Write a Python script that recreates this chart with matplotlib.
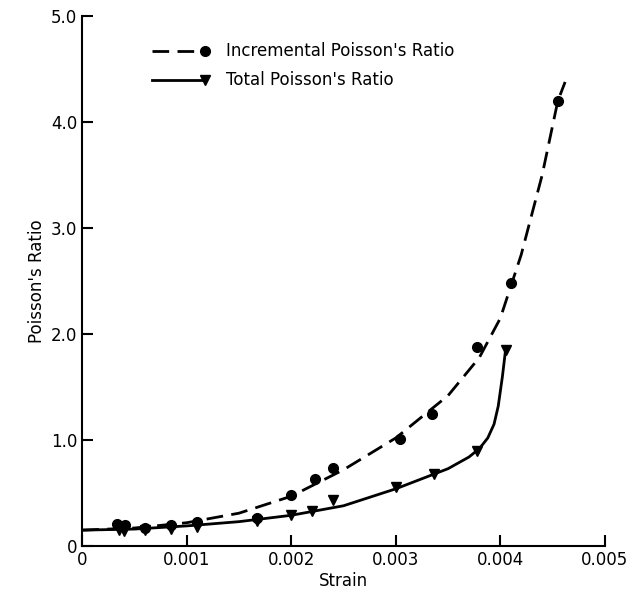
import numpy as np
import matplotlib
matplotlib.use("Agg")
from matplotlib import pyplot as plt

# measured points
inc_x = [0.00033, 0.00041, 0.0006, 0.00085, 0.0011, 0.00167, 0.002, 0.00223, 0.0024, 0.00304, 0.00335, 0.00378, 0.0041, 0.00455]
inc_y = [0.21, 0.20, 0.17, 0.20, 0.23, 0.26, 0.48, 0.63, 0.74, 1.01, 1.25, 1.88, 2.48, 4.2]
tot_x = [0.00035, 0.0004, 0.0006, 0.00085, 0.0011, 0.00167, 0.002, 0.0022, 0.0024, 0.003, 0.00337, 0.00378, 0.00405]
tot_y = [0.15, 0.14, 0.15, 0.16, 0.18, 0.24, 0.29, 0.33, 0.43, 0.56, 0.68, 0.90, 1.85]

# faired curves
inc_cx = [0, 0.0005, 0.001, 0.0015, 0.002, 0.0025, 0.003, 0.0035, 0.0038, 0.004, 0.0042, 0.0044, 0.00455, 0.00462]
inc_cy = [0.15, 0.17, 0.22, 0.31, 0.47, 0.72, 1.02, 1.42, 1.78, 2.15, 2.75, 3.5, 4.2, 4.38]
tot_cx = [0, 0.0005, 0.001, 0.0015, 0.002, 0.0025, 0.003, 0.0035, 0.0037, 0.0038, 0.00388, 0.00394, 0.00398, 0.00402, 0.00405]
tot_cy = [0.15, 0.16, 0.19, 0.23, 0.29, 0.38, 0.54, 0.73, 0.84, 0.92, 1.02, 1.15, 1.32, 1.6, 1.85]

labels = ["Incremental Poisson's Ratio", "Total Poisson's Ratio"]

plt.rcParams['font.family'] = ['DejaVu Sans Condensed', 'DejaVu Sans']
fig = plt.figure(figsize=(6.38, 6.03), dpi=100)
ax = fig.add_axes([0.129, 0.0945, 0.819, 0.8785])

ax.plot(inc_cx, inc_cy, color='black', lw=2, ls=(0, (6, 3)))
ax.plot(tot_cx, tot_cy, color='black', lw=2)
ax.plot(inc_x, inc_y, 'o', color='black', ms=7)
ax.plot(tot_x, tot_y, 'v', color='black', ms=7)

# legend, marker at the right end of the line
tr = ax.transAxes
ax.plot([0.134, 0.235], [0.934, 0.934], color='black', lw=2, ls=(0, (6, 3)), transform=tr)
ax.plot([0.235], [0.934], 'o', color='black', ms=7, transform=tr)
ax.plot([0.134, 0.235], [0.879, 0.879], color='black', lw=2, transform=tr)
ax.plot([0.235], [0.879], 'v', color='black', ms=7, transform=tr)
ax.text(0.275, 0.934, labels[0], transform=tr, fontsize=12, va='center')
ax.text(0.275, 0.879, labels[1], transform=tr, fontsize=12, va='center')

ax.set_xlim(0, 0.005)
ax.set_ylim(0, 5.0)
ax.set_xticks([0, 0.001, 0.002, 0.003, 0.004, 0.005])
ax.set_xticklabels(['0', '0.001', '0.002', '0.003', '0.004', '0.005'])
ax.set_yticks([0, 1, 2, 3, 4, 5])
ax.set_yticklabels(['0', '1.0', '2.0', '3.0', '4.0', '5.0'])
ax.tick_params(direction='in', length=8, width=1.5, labelsize=12)
ax.spines['top'].set_visible(False)
ax.spines['right'].set_visible(False)
ax.spines['left'].set_linewidth(1.5)
ax.spines['bottom'].set_linewidth(1.5)
ax.set_xlabel('Strain', fontsize=12, labelpad=2)
ax.set_ylabel("Poisson's Ratio", fontsize=12)

fig.savefig('out.png', dpi=100)
